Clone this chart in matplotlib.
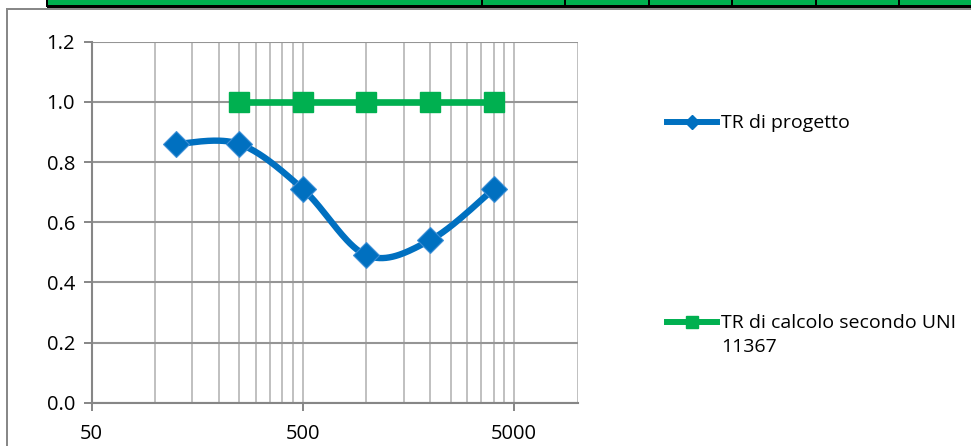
import matplotlib
matplotlib.use("Agg")
import matplotlib.pyplot as plt
import numpy as np
from matplotlib.lines import Line2D
from matplotlib.patches import Rectangle
from matplotlib.ticker import FixedLocator, NullFormatter

# Dati del grafico
freq_progetto = [125, 250, 500, 1000, 2000, 4000]
tr_progetto = [0.86, 0.86, 0.71, 0.49, 0.54, 0.71]
freq_calcolo = [250, 500, 1000, 2000, 4000]
tr_calcolo = [1.0, 1.0, 1.0, 1.0, 1.0]
x_ticks = [50, 500, 5000]
x_tick_labels = ['50', '500', '5000']
x_minor = [100, 150, 200, 250, 300, 350, 400, 450,
           1000, 1500, 2000, 2500, 3000, 3500, 4000, 4500, 10000]
y_ticks = [0.0, 0.2, 0.4, 0.6, 0.8, 1.0, 1.2]
label_progetto = 'TR di progetto'
label_calcolo = ['TR di calcolo secondo UNI', '11367']

BLUE = '#0070C0'
GREEN = '#00B050'
W, H = 971, 446

plt.rcParams['font.family'] = ['Open Sans', 'DejaVu Sans']

fig = plt.figure(figsize=(W / 100, H / 100), dpi=100)


def fx(px):
    return px / W


def fy(py):
    return 1 - py / H


# Bordo del foglio di calcolo in alto
fig.patches.append(Rectangle((fx(47), fy(6)), 1, 6 / H, transform=fig.transFigure,
                             facecolor=GREEN, edgecolor='none'))
fig.patches.append(Rectangle((fx(47), fy(7.5)), 1, 2 / H, transform=fig.transFigure,
                             facecolor='black', edgecolor='none'))
for sx in [47, 482, 565, 649, 732, 816, 899]:
    fig.patches.append(Rectangle((fx(sx - 1), fy(7)), 2 / W, 7 / H, transform=fig.transFigure,
                                 facecolor='black', edgecolor='none'))
# Bordo dell'area del grafico
fig.patches.append(Rectangle((fx(7), fy(10)), 1, 2 / H, transform=fig.transFigure,
                             facecolor='#888888', edgecolor='none'))
fig.patches.append(Rectangle((fx(6), 0), 2 / W, fy(8), transform=fig.transFigure,
                             facecolor='#888888', edgecolor='none'))

ax = fig.add_axes([fx(91.7), fy(402.7), (577.7 - 91.7) / W, (402.7 - 41.7) / H])
ax.set_xscale('log')
ax.set_xlim(50, 10000)
ax.set_ylim(0, 1.2)

ax.set_xticks(x_ticks, labels=x_tick_labels)
ax.xaxis.set_minor_locator(FixedLocator(x_minor))
ax.xaxis.set_minor_formatter(NullFormatter())
ax.set_yticks(y_ticks, labels=[f'{v:.1f}' for v in y_ticks])

ax.tick_params(axis='both', which='major', labelsize=14.5, colors='#868686',
               labelcolor='black', length=6, width=1.4)
ax.tick_params(axis='y', pad=6)
ax.tick_params(axis='x', pad=9)
ax.tick_params(axis='x', which='minor', length=0)

ax.grid(True, axis='y', color='#959595', linewidth=1.5)
ax.grid(True, axis='x', which='both', color='#C0C0C0', linewidth=1.4)
ax.set_axisbelow(True)
for s in ['top', 'right']:
    ax.spines[s].set_visible(False)
for s in ['left', 'bottom']:
    ax.spines[s].set_color('#868686')
    ax.spines[s].set_linewidth(1.5)


# Curva smussata come in Excel (Catmull-Rom in coordinate schermo)
def smooth(xs, ys, n=40):
    pts = ax.transData.transform(np.column_stack([xs, ys]))
    out = [pts[0]]
    for i in range(len(pts) - 1):
        p0 = pts[i - 1] if i > 0 else pts[i]
        p1 = pts[i]
        p2 = pts[i + 1]
        p3 = pts[i + 2] if i + 2 < len(pts) else pts[i + 1]
        c1 = p1 + (p2 - p0) / 6
        c2 = p2 - (p3 - p1) / 6
        t = np.linspace(0, 1, n)[1:, None]
        seg = ((1 - t) ** 3) * p1 + 3 * ((1 - t) ** 2) * t * c1 + 3 * (1 - t) * t ** 2 * c2 + t ** 3 * p2
        out.extend(seg)
    data = ax.transData.inverted().transform(np.array(out))
    return data[:, 0], data[:, 1]


sx_, sy_ = smooth(freq_progetto, tr_progetto)
ax.plot(sx_, sy_, color=BLUE, linewidth=4.6, solid_capstyle='round', zorder=3)
ax.plot(freq_progetto, tr_progetto, linestyle='none', marker='D', markersize=13.5,
        markerfacecolor=BLUE, markeredgecolor='#3D8FD6', markeredgewidth=0.8, zorder=4)

ax.plot(freq_calcolo, tr_calcolo, color=GREEN, linewidth=4.8, marker='s',
        markersize=15, markerfacecolor=GREEN, markeredgecolor=GREEN, zorder=3)

# Legenda
fig.add_artist(Line2D([fx(667), fx(692), fx(717)], [fy(121.7)] * 3, color=BLUE,
                      linewidth=4.3, marker='D', markersize=7, markevery=[1],
                      transform=fig.transFigure))
fig.text(fx(721), fy(123), label_progetto, fontsize=14, va='center', ha='left')

fig.add_artist(Line2D([fx(667), fx(692), fx(717)], [fy(321.7)] * 3, color=GREEN,
                      linewidth=4.3, marker='s', markersize=8, markevery=[1],
                      transform=fig.transFigure))
fig.text(fx(721), fy(323), label_calcolo[0], fontsize=14, va='center', ha='left')
fig.text(fx(721), fy(347), label_calcolo[1], fontsize=14, va='center', ha='left')

fig.savefig('out.png', dpi=100)
